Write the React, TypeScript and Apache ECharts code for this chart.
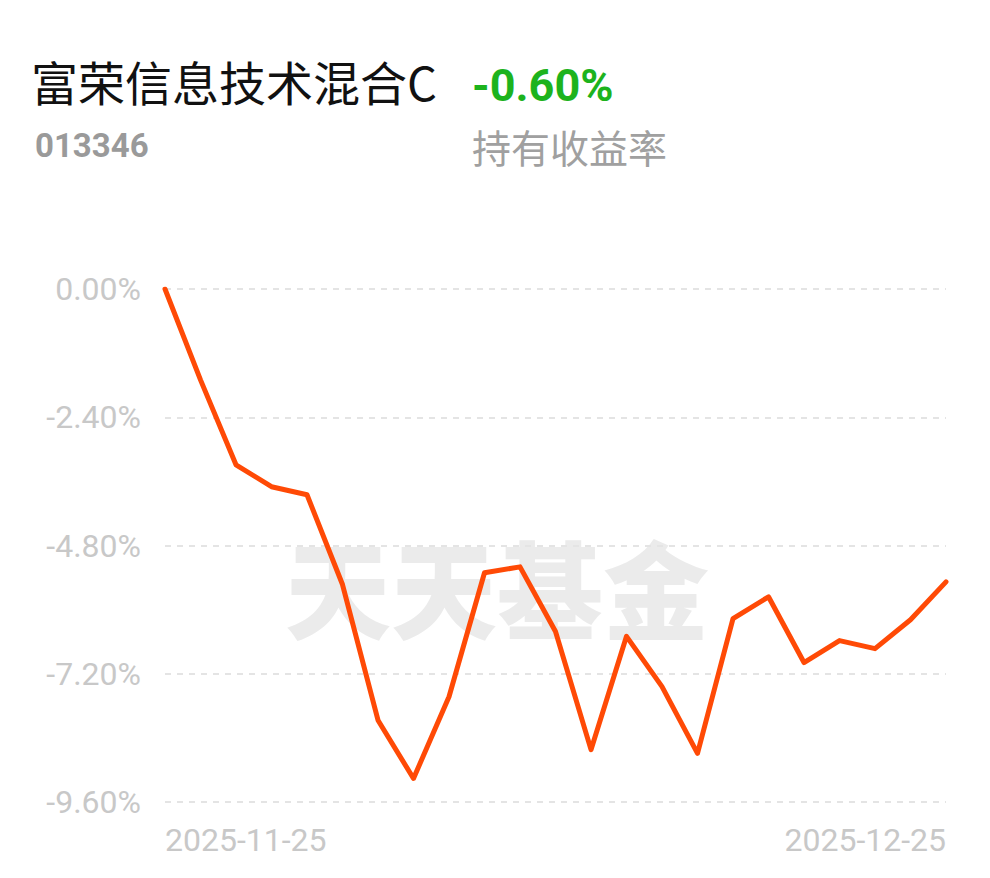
import React, { useEffect, useRef } from "react";
import * as echarts from "echarts";

const fundName = "富荣信息技术混合C";
const fundCode = "013346";
const holdReturn = "-0.60%";
const holdLabel = "持有收益率";
const watermark = "天天基金";

const dates = [
  "2025-11-25", "2025-11-26", "2025-11-27", "2025-11-28",
  "2025-12-01", "2025-12-02", "2025-12-03", "2025-12-04", "2025-12-05",
  "2025-12-08", "2025-12-09", "2025-12-10", "2025-12-11", "2025-12-12",
  "2025-12-15", "2025-12-16", "2025-12-17", "2025-12-18", "2025-12-19",
  "2025-12-22", "2025-12-23", "2025-12-24", "2025-12-25",
];

const returns = [
  0.0, -1.7, -3.29, -3.7, -3.85, -5.53, -8.07, -9.16, -7.63, -5.31, -5.2,
  -6.41, -8.62, -6.5, -7.44, -8.69, -6.17, -5.76, -6.99, -6.58, -6.73,
  -6.19, -5.48,
];

const yMin = -9.6;
const yMax = 0;
const yStep = 2.4;

export default function App() {
  const ref = useRef<HTMLDivElement>(null);
  useEffect(() => {
    if (!ref.current) return;
    const chart = echarts.init(ref.current, undefined, { renderer: "svg" });
    const last = dates.length - 1;
    chart.setOption({
      animation: false,
      backgroundColor: "#ffffff",
      title: [
        {
          text: fundName,
          left: 26,
          top: 52,
          textStyle: { fontFamily: "Noto Sans CJK SC", fontSize: 47, fontWeight: "normal", color: "#111" },
        },
        {
          text: holdReturn,
          left: 467,
          top: 58,
          textStyle: { fontFamily: "Roboto", fontSize: 45, fontWeight: "bold", color: "#1db31d" },
        },
        {
          text: fundCode,
          left: 30,
          top: 124,
          textStyle: { fontFamily: "Roboto", fontSize: 33, fontWeight: "bold", color: "#9a9a9a" },
        },
        {
          text: holdLabel,
          left: 467,
          top: 121,
          textStyle: { fontFamily: "Noto Sans CJK SC", fontSize: 39, fontWeight: "normal", color: "#a0a0a0" },
        },
      ],
      graphic: [
        {
          type: "text",
          left: 285,
          top: 532,
          z: -1,
          style: {
            text: watermark,
            fontFamily: "Noto Sans CJK SC",
            fontSize: 106,
            fontWeight: 900,
            fill: "#ebebeb",
          },
        },
      ],
      grid: { left: 165, right: 44, top: 289, bottom: 76, containLabel: false },
      xAxis: {
        type: "category",
        data: dates,
        boundaryGap: false,
        axisLine: { show: false },
        axisTick: { show: false },
        axisLabel: {
          interval: (i: number) => i === 0 || i === last,
          alignMinLabel: "left",
          alignMaxLabel: "right",
          margin: 22,
          color: "#c8c8c8",
          fontFamily: "Roboto",
          fontSize: 32,
        },
      },
      yAxis: {
        type: "value",
        min: yMin,
        max: yMax,
        interval: yStep,
        axisLine: { show: false },
        axisTick: { show: false },
        axisLabel: {
          margin: 24,
          color: "#c8c8c8",
          fontFamily: "Roboto",
          fontSize: 32,
          formatter: (v: number) => v.toFixed(2) + "%",
        },
        splitLine: {
          lineStyle: { color: "#e4e4e4", type: [6, 6], width: 2 },
        },
      },
      series: [
        {
          type: "line",
          data: returns,
          symbol: "none",
          lineStyle: { color: "#ff4a06", width: 5, join: "round", cap: "round" },
          z: 3,
        },
      ],
    });
    return () => chart.dispose();
  }, []);
  return <div ref={ref} style={{ width: 990, height: 878, margin: -8 }} />;
}
